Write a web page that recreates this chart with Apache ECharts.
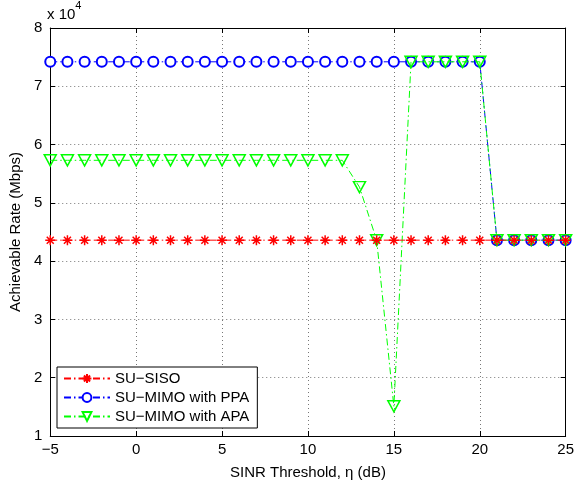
<!DOCTYPE html>
<html><head><meta charset="utf-8">
<script src="https://cdn.jsdelivr.net/npm/echarts@6/dist/echarts.min.js"></script>
<style>html,body{margin:0;padding:0;background:#fff}#c{width:577px;height:485px}</style>
</head><body><div id="c"></div>
<script>
const xValues = [-5,-4,-3,-2,-1,0,1,2,3,4,5,6,7,8,9,10,11,12,13,14,15,16,17,18,19,20,21,22,23,24,25];
const sisoValues = [4.36,4.36,4.36,4.36,4.36,4.36,4.36,4.36,4.36,4.36,4.36,4.36,4.36,4.36,4.36,4.36,4.36,4.36,4.36,4.36,4.36,4.36,4.36,4.36,4.36,4.36,4.36,4.36,4.36,4.36,4.36];
const ppaValues = [7.42,7.42,7.42,7.42,7.42,7.42,7.42,7.42,7.42,7.42,7.42,7.42,7.42,7.42,7.42,7.42,7.42,7.42,7.42,7.42,7.42,7.42,7.42,7.42,7.42,7.42,4.36,4.36,4.36,4.36,4.36];
const apaValues = [5.73,5.73,5.73,5.73,5.73,5.73,5.73,5.73,5.73,5.73,5.73,5.73,5.73,5.73,5.73,5.73,5.73,5.73,5.27,4.36,1.51,7.42,7.42,7.42,7.42,7.42,4.36,4.36,4.36,4.36,4.36];
const seriesNames = ['SU\u2212SISO','SU\u2212MIMO with PPA','SU\u2212MIMO with APA'];
const xTicks = {min:-5,max:25,interval:5};
const yTicks = {min:1,max:8,interval:1};

const font = 'Liberation Sans, Arial, Helvetica, sans-serif';
const pair = a => xValues.map((x,i)=>[x,a[i]]);
const dashDot = [7,3,1.5,3];
const star = 'path://M0 -10 L0 10 M-10 0 L10 0 M-7 -7 L7 7 M-7 7 L7 -7';

const chart = echarts.init(document.getElementById('c'), null, {renderer:'canvas'});
const gridLine = {show:true,lineStyle:{color:'#777',type:[1,3],width:1}};
chart.setOption({
  animation:false,
  backgroundColor:'#fff',
  grid:{left:47,right:8,top:28,bottom:47,containLabel:false},
  xAxis:[{type:'value',min:xTicks.min,max:xTicks.max,interval:xTicks.interval,
    name:'SINR Threshold, \u03b7 (dB)',nameLocation:'middle',nameGap:29,
    nameTextStyle:{fontFamily:font,fontSize:15,color:'#000'},
    axisLine:{onZero:false,lineStyle:{color:'#000',width:1}},
    axisTick:{inside:true,length:5,lineStyle:{color:'#000'}},
    axisLabel:{fontFamily:font,fontSize:15,color:'#000',margin:6,formatter:v=>String(v).replace('-','\u2212')},
    splitLine:gridLine},
   {type:'value',position:'top',min:xTicks.min,max:xTicks.max,interval:xTicks.interval,
    axisLine:{show:true,onZero:false,lineStyle:{color:'#000'}},axisTick:{inside:true,length:5,lineStyle:{color:'#000'}},
    axisLabel:{show:false},splitLine:{show:false}}],
  yAxis:[{type:'value',min:yTicks.min,max:yTicks.max,interval:yTicks.interval,
    name:'Achievable Rate (Mbps)',nameLocation:'middle',nameGap:27,
    nameTextStyle:{fontFamily:font,fontSize:15,color:'#000'},
    axisLine:{show:true,onZero:false,lineStyle:{color:'#000'}},
    axisTick:{inside:true,length:5,lineStyle:{color:'#000'}},
    axisLabel:{fontFamily:font,fontSize:15,color:'#000',margin:8},
    splitLine:gridLine},
   {type:'value',position:'right',min:yTicks.min,max:yTicks.max,interval:yTicks.interval,
    axisLine:{show:true,onZero:false,lineStyle:{color:'#000'}},axisTick:{inside:true,length:5,lineStyle:{color:'#000'}},
    axisLabel:{show:false},splitLine:{show:false}}],
  graphic:[{type:'text',left:47,top:0,style:{
    text:'{a|x 10}{b|4}',
    rich:{a:{fontFamily:font,fontSize:15,fill:'#000',padding:[7,0,0,0]},b:{fontFamily:font,fontSize:11,fill:'#000',verticalAlign:'top',padding:[0,0,9,0]}}}}],
  legend:{orient:'vertical',left:57,top:367,width:206,
    padding:[4,8,4,6],itemGap:4,itemWidth:46,itemHeight:11,
    backgroundColor:'#fff',borderColor:'#000',borderWidth:1,borderRadius:0,
    textStyle:{fontFamily:font,fontSize:15,color:'#000'},
    data:seriesNames},
  series:[
    {name:seriesNames[1],type:'line',data:pair(ppaValues),z:2,
      symbol:'emptyCircle',symbolSize:10,
      lineStyle:{color:'#0000ff',width:1,type:dashDot},
      itemStyle:{color:'#0000ff',borderColor:'#0000ff',borderWidth:1.5}},
    {name:seriesNames[2],type:'line',data:pair(apaValues),z:3,
      symbol:'triangle',symbolRotate:180,symbolSize:[12,11],
      lineStyle:{color:'#00ff00',width:1,type:dashDot},
      itemStyle:{color:'rgba(255,255,255,0)',borderColor:'#00ff00',borderWidth:1.5}},
    {name:seriesNames[0],type:'line',data:pair(sisoValues),z:4,
      symbol:star,symbolSize:10,
      lineStyle:{color:'#ff0000',width:1,type:dashDot},
      itemStyle:{color:'#ff0000',borderColor:'#ff0000',borderWidth:1.5}}
  ]
});
</script></body></html>
